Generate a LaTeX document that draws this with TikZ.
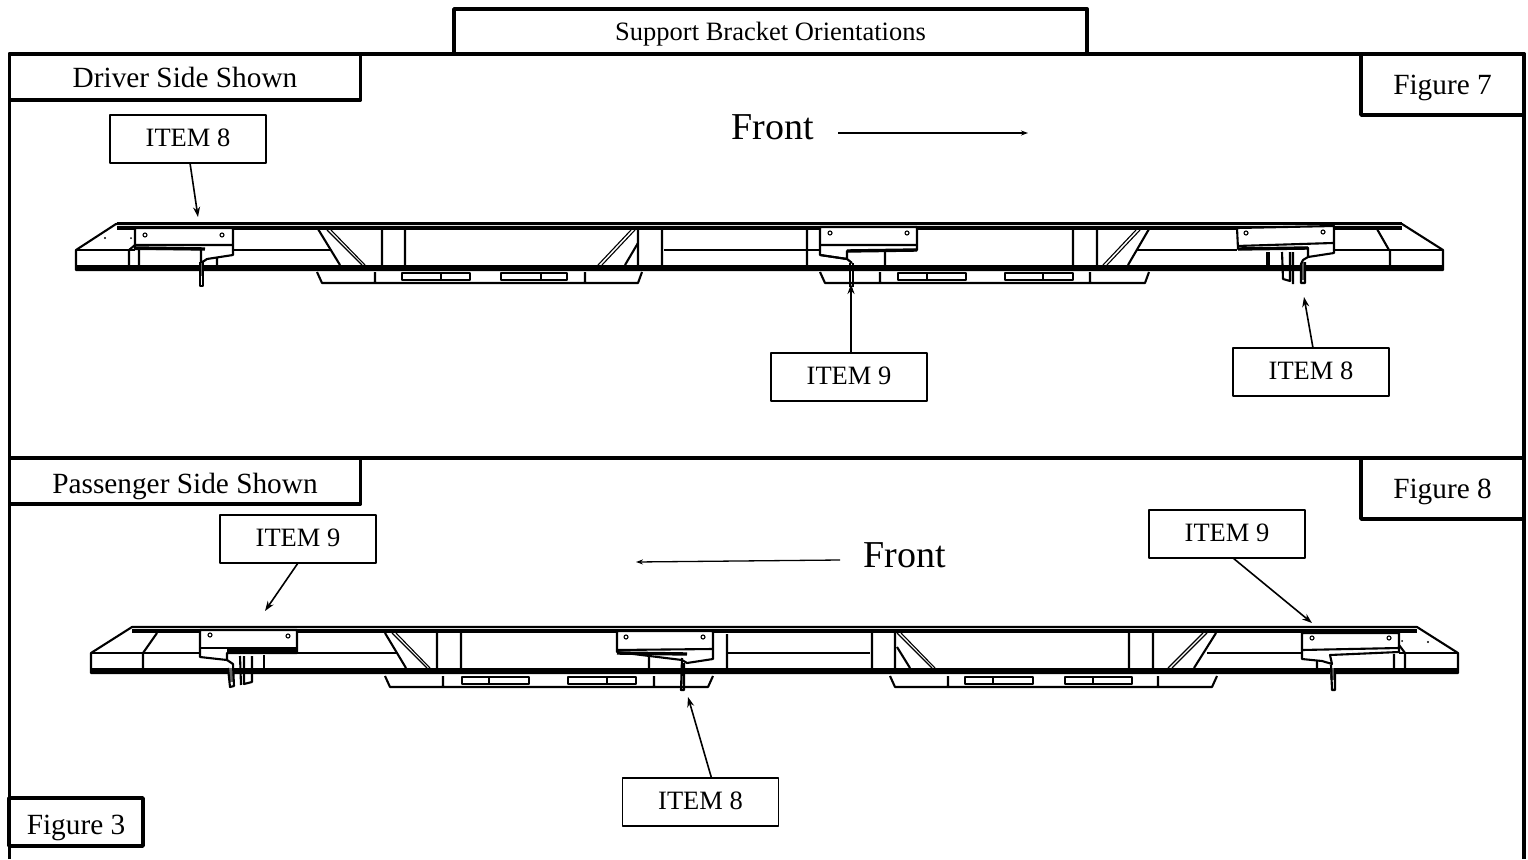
\documentclass[tikz,border=0pt]{standalone}
\usepackage{fontspec}
\usetikzlibrary{arrows.meta}
\setmainfont{Liberation Serif}
\tikzset{
  panelbox/.style={draw,line width=3.8pt,inner sep=0pt,outer sep=0pt,text depth=0pt,font=\fontsize{29.3}{32}\selectfont},
  itembox/.style={draw,line width=1.6pt,inner sep=0pt,outer sep=0pt,minimum width=156pt,minimum height=48pt,text height=15pt,text depth=0pt,font=\fontsize{26.5}{30}\selectfont},
  frontlabel/.style={inner sep=0pt,font=\fontsize{38}{42}\selectfont},
  leadarrow/.style={-{Stealth[length=10pt,width=7pt]},line width=1.6pt},
  frontarrow/.style={-{Stealth[length=7pt,width=5pt]},line width=1.3pt},
  heavy/.style={line width=3.4pt},
  rail/.style={line width=2.1pt},
  fine/.style={line width=1.1pt},
  tang/.style={line width=3.6pt,black!60}
}
\begin{document}
\begin{tikzpicture}[x=1pt,y=-1pt,line join=round]
\useasboundingbox (0,0) rectangle (1528,859);
% frame
\draw[line width=3.2pt] (9.5,859) -- (9.5,54) -- (1524,54) -- (1524,859);
\draw[line width=3.6pt] (9.5,458) -- (1524,458);
% labels
\node[panelbox,minimum width=633pt,minimum height=45pt,text height=19pt,font=\fontsize{26.5}{30}\selectfont] (title) at (770.5,31.5) {Support Bracket Orientations};
\node[panelbox,minimum width=351pt,minimum height=46pt,text height=22pt] (driver) at (185,77) {Driver Side Shown};
\node[panelbox,minimum width=163pt,minimum height=61pt,text height=19pt] (figseven) at (1442.5,84.5) {Figure 7};
\node[panelbox,minimum width=351pt,minimum height=46pt,text height=24pt] (passenger) at (185,481) {Passenger Side Shown};
\node[panelbox,minimum width=163pt,minimum height=61pt,text height=19pt] (figeight) at (1442.5,488.5) {Figure 8};
\node[panelbox,minimum width=134pt,minimum height=48pt,text height=24pt] (figthree) at (76,822) {Figure 3};
\node[frontlabel] (fronta) at (773,127) {Front};
\node[frontlabel] (frontb) at (905,555) {Front};
\node[itembox] (itema) at (188,139) {ITEM 8};
\node[itembox] (itemb) at (849,377) {ITEM 9};
\node[itembox] (itemc) at (1311,372) {ITEM 8};
\node[itembox] (itemd) at (298,539) {ITEM 9};
\node[itembox] (iteme) at (1227,534) {ITEM 9};
\node[itembox] (itemf) at (700.5,802) {ITEM 8};
% arrows
\coordinate (tailfronta) at (838,133);
\coordinate (tipfronta) at (1028,133);
\coordinate (tailfrontb) at (840,560);
\coordinate (tipfrontb) at (636,562);
\coordinate (tipa) at (198,217);
\coordinate (tipb) at (851,284);
\coordinate (tipc) at (1304,297);
\coordinate (tipd) at (265,611);
\coordinate (tipe) at (1312,623);
\coordinate (tipf) at (688,697);
\draw[frontarrow] (tailfronta) -- (tipfronta);
\draw[frontarrow] (tailfrontb) -- (tipfrontb);
\draw[leadarrow] ([xshift=2pt]itema.south) -- (tipa);
\draw[leadarrow] ([xshift=2pt]itemb.north) -- (tipb);
\draw[leadarrow] ([xshift=2pt]itemc.north) -- (tipc);
\draw[leadarrow] (itemd.south) -- (tipd);
\draw[leadarrow] ([xshift=6pt]iteme.south) -- (tipe);
\draw[leadarrow] ([xshift=11pt]itemf.north) -- (tipf);
% upper rail
\draw[rail] (76,270) -- (76,250) -- (116,224) -- (1402,224) -- (1443,250) -- (1443,270) -- cycle;
\draw[heavy] (117,223.5) -- (1402,223.5) (117,228) -- (1402,228);
\draw[heavy] (76,267) -- (1443,267);
\draw[rail] (76,250) -- (135,250) (233,250) -- (330,250) (664,250) -- (820,250) (1137,250) -- (1237,250) (1334,250) -- (1443,250);
\draw[rail] (129,250) -- (129,267) (139,250) -- (139,267) (382,228) -- (382,266) (405,228) -- (405,266)
  (638,228) -- (638,266) (662,228) -- (662,266) (807,228) -- (807,266) (1073,228) -- (1073,266) (1097,228) -- (1097,266)
  (1390,250) -- (1390,270) (1377,229) -- (1389,250);
\draw[rail] (318,229) -- (340,265) (638,243) -- (625,265) (1149,229) -- (1128,265);
\draw[fine] (327,230) -- (362,265) (331,230) -- (365,265) (631,230) -- (598,265) (635,230) -- (602,265)
  (1136,230) -- (1103,265) (1140,230) -- (1107,265);
\draw[fill=black,draw=none] (105,238) circle (1.2pt) (131,238) circle (1pt);
% upper boxes
\draw[rail] (317,272) -- (322,283) -- (638,283) -- (642,272) (375,272) -- (375,283) (585,272) -- (585,283);
\draw[rail] (402,273) rectangle (470,280) (441,273) -- (441,280) (501,273) rectangle (567,280) (541,273) -- (541,280);
\draw[rail] (820,272) -- (825,283) -- (1145,283) -- (1149,272) (880,272) -- (880,283) (1090,272) -- (1090,283);
\draw[rail] (898,273) rectangle (966,280) (927,273) -- (927,280) (1005,273) rectangle (1073,280) (1043,273) -- (1043,280);
% upper brackets
\draw[rail,fill=white] (135,228) -- (233,228) -- (233,255) -- (207,259) -- (201,263) -- (201,249) -- (135,249) -- cycle;
\draw[heavy] (135,248) -- (205,249);
\draw[rail] (135,245) -- (233,245) (135,245) -- (129,250) (217,258) -- (217,267);
\draw[tang] (202,263) -- (202,276);
\draw[rail] (200,262) -- (200,286) -- (203,286) -- (203,262);
\draw[fine] (145,235) circle (2pt) (222,235) circle (2pt);
\draw[rail,fill=white] (820,227) -- (917,227) -- (917,250) -- (847,251) -- (847,259) -- (820,255) -- cycle;
\draw[heavy] (847,251) -- (917,250);
\draw[rail] (820,245) -- (917,245) (820,255) -- (847,259) -- (852,263) (885,252) -- (885,266);
\draw[rail] (850,263) -- (850,287) (853,263) -- (853,287);
\draw[fine] (830,233) circle (2pt) (907,233) circle (2pt);
\draw[rail,fill=white] (1237,228) -- (1334,226) -- (1334,253) -- (1308,257) -- (1308,248) -- (1238,249) -- cycle;
\draw[heavy] (1238,249) -- (1308,248);
\draw[rail] (1237,246) -- (1333,243);
\draw[heavy] (1268,252) -- (1268,265);
\draw[rail] (1282,252) -- (1283,279) -- (1290,281) -- (1290,252) (1293,252) -- (1293,284);
\draw[tang] (1303,262) -- (1303,280);
\draw[rail] (1308,257) -- (1303,260) -- (1301,264) -- (1301,283) -- (1305,283) -- (1305,262);
\draw[fine] (1246,233) circle (2pt) (1323,232) circle (2pt);
% lower rail
\draw[rail] (91,673) -- (91,653) -- (132,627) -- (1417,627) -- (1458,653) -- (1458,673) -- cycle;
\draw[heavy] (132,631) -- (1417,631);
\draw[heavy] (91,670) -- (1458,670);
\draw[rail] (91,653) -- (200,653) (297,653) -- (397,653) (727,653) -- (870,653) (1207,653) -- (1302,653) (1399,653) -- (1458,653);
\draw[rail] (143,653) -- (143,673) (157,633) -- (143,653) (437,631) -- (437,669) (461,631) -- (461,669)
  (727,634) -- (727,670) (872,631) -- (872,669) (895,631) -- (895,669) (1129,631) -- (1129,669) (1153,631) -- (1153,669);
\draw[rail] (385,633) -- (406,668) (897,647) -- (910,668) (1216,633) -- (1194,668);
\draw[fine] (392,633) -- (427,668) (396,633) -- (430,668) (897,633) -- (932,668) (901,633) -- (935,668)
  (1203,633) -- (1168,668) (1207,633) -- (1172,668);
\draw[fill=black,draw=none] (1402,641) circle (1pt) (1428,642) circle (1.2pt);
% lower boxes
\draw[rail] (385,676) -- (390,687) -- (708,687) -- (713,676) (443,676) -- (443,687) (654,676) -- (654,687);
\draw[rail] (462,677) rectangle (529,684) (489,677) -- (489,684) (568,677) rectangle (636,684) (607,677) -- (607,684);
\draw[rail] (890,676) -- (895,687) -- (1212,687) -- (1217,676) (948,676) -- (948,687) (1158,676) -- (1158,687);
\draw[rail] (965,677) rectangle (1033,684) (993,677) -- (993,684) (1065,677) rectangle (1132,684) (1093,677) -- (1093,684);
% lower brackets
\draw[rail,fill=white] (200,630) -- (297,630) -- (297,653) -- (227,653) -- (227,660) -- (200,657) -- cycle;
\draw[heavy] (227,651) -- (297,651);
\draw[rail] (200,648) -- (297,648) (264,655) -- (264,668);
\draw[rail] (240,656) -- (241,685) (244,656) -- (244,684) -- (252,682) -- (252,656);
\draw[tang] (231,668) -- (231,682);
\draw[rail] (227,660) -- (233,664) -- (234,686) -- (230,687) -- (228,668);
\draw[fine] (210,635) circle (2pt) (288,636) circle (2pt);
\draw[rail,fill=white] (617,631) -- (713,631) -- (713,659) -- (687,663) -- (682,660) -- (617,652) -- cycle;
\draw[heavy] (617,653) -- (687,654);
\draw[rail] (617,650) -- (713,649) (649,655) -- (649,668) (682,658) -- (681,690) -- (684,690) -- (684,663);
\draw[fine] (626,637) circle (2pt) (703,637) circle (2pt);
\draw[rail,fill=white] (1302,633) -- (1399,633) -- (1399,652) -- (1330,655) -- (1332,664) -- (1322,661) -- (1302,659) -- cycle;
\draw[rail] (1302,650) -- (1399,648) (1399,645) -- (1405,653) (1317,661) -- (1317,668) (1394,654) -- (1394,673) (1405,653) -- (1405,670);
\draw[tang] (1332,668) -- (1332,680);
\draw[rail] (1331,665) -- (1332,690) -- (1335,690) -- (1335,668);
\draw[fine] (1312,638) circle (2pt) (1389,638) circle (2pt);
\end{tikzpicture}
\end{document}
